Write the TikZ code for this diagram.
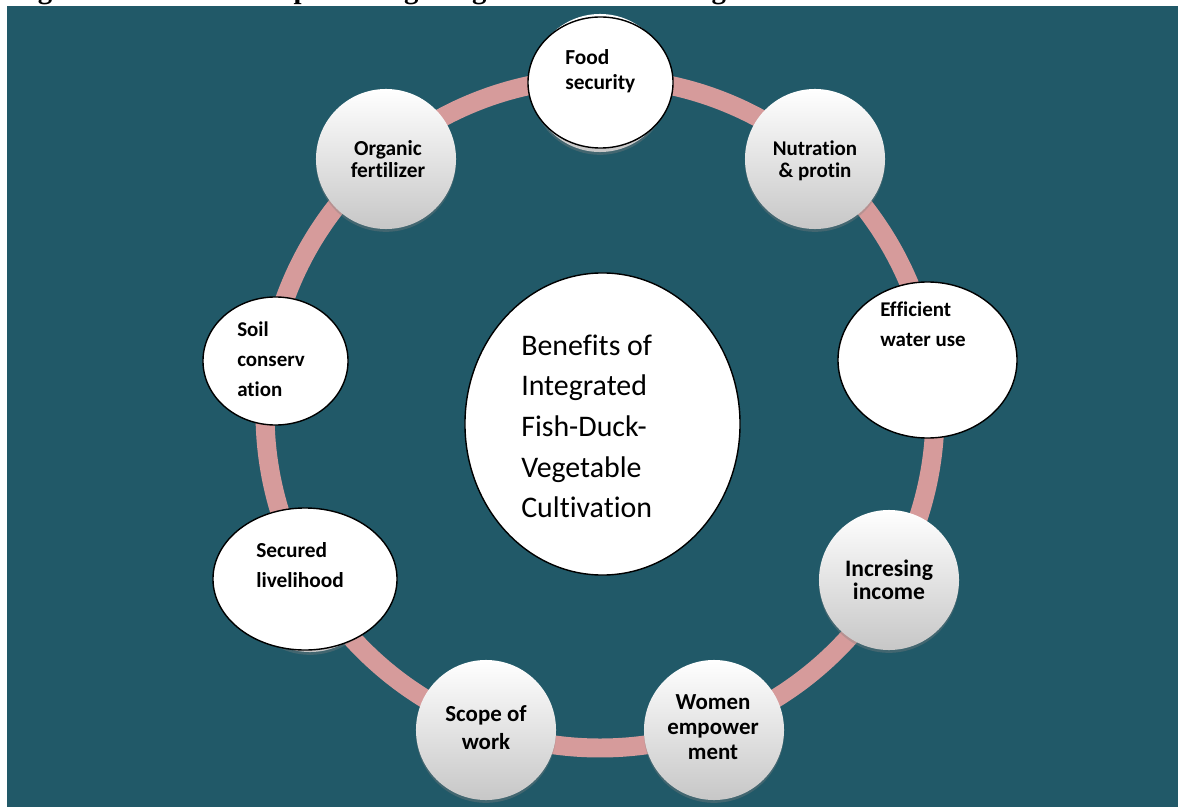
\documentclass[tikz,border=0pt]{standalone}
\usepackage{fontspec}
\setmainfont{Carlito}[Ligatures=NoCommon]
\newfontfamily\titlefont{Liberation Serif}
\usetikzlibrary{shapes.geometric,shadows}
\definecolor{bgteal}{RGB}{33,89,104}
\definecolor{ringpink}{RGB}{214,155,155}
\begin{document}
\begin{tikzpicture}[x=0.025cm,y=-0.025cm,
  bubble/.style={circle, minimum size=3.5cm, inner sep=0pt, top color=white, bottom color=black!22,
    drop shadow={shadow xshift=0pt, shadow yshift=-2pt, opacity=0.35}},
  oval/.style={ellipse, draw=black, line width=1pt, fill=white, inner sep=0pt},
  lblc/.style={inner sep=0pt, align=center, anchor=north, text=black},
  lbll/.style={inner sep=0pt, align=left, anchor=north west, text=black},
]
\useasboundingbox (0,0) rectangle (1184,807);
\clip (0,0) rectangle (1184,807);
% title (mostly cut off at the top)
\node[anchor=base west, inner sep=0pt, font=\titlefont\bfseries\fontsize{20.5}{24}\selectfont] (title) at (12,-1.2)
  {Figure 3.1: Benefits of practicing integrated fish-duck-vegetable cultivation};
% background
\fill[bgteal] (7,6) rectangle (1178,807);
% ring
\coordinate (ringc) at (600,413);
\draw[ringpink, line width=13.5pt] (ringc) circle[radius=335];
% grey bubbles
\node[bubble, minimum size=3.45cm] (food0) at (600,83) {};
\node[bubble] (nutr) at (815,159) {};
\node[bubble] (org) at (386,159) {};
\node[bubble] (inc) at (889,580) {};
\node[bubble] (women) at (714,730) {};
\node[bubble] (scope) at (486,730) {};
\node[bubble] (sec0) at (310,582) {};
% white ovals
\node[oval, minimum width=3.625cm, minimum height=3.275cm] (food) at (600.5,82.5) {};
\node[oval, minimum width=4.475cm, minimum height=3.9cm] (water) at (927.5,360) {};
\node[oval, minimum width=4.6cm, minimum height=3.55cm] (sec) at (305,579) {};
\node[oval, minimum width=3.625cm, minimum height=3.2cm] (soil) at (275.5,361) {};
\node[oval, minimum width=6.875cm, minimum height=7.55cm] (center) at (602.5,424) {};
% labels
\node[lbll, font=\bfseries\fontsize{15.2}{17.7}\selectfont] (tfood) at (565,46.5) {\strut Food\\\strut security};
\node[lblc, font=\bfseries\fontsize{14.9}{15.6}\selectfont] (tnutr) at (815,139.6) {\strut Nutration\\\strut \& protin};
\node[lblc, font=\bfseries\fontsize{15.2}{15.6}\selectfont] (torg) at (388,139.6) {\strut Organic\\\strut fertilizer};
\node[lbll, font=\bfseries\fontsize{14.9}{21.26}\selectfont] (twater) at (880,295) {\strut Efficient\\\strut water use};
\node[lblc, font=\bfseries\fontsize{16.8}{17}\selectfont] (tinc) at (889,559) {\strut Incresing\\\strut income};
\node[lblc, font=\bfseries\fontsize{16.3}{18.07}\selectfont] (twomen) at (713,691) {\strut Women\\\strut empower\\\strut ment};
\node[lblc, font=\bfseries\fontsize{16.3}{19.84}\selectfont] (tscope) at (486,701.4) {\strut Scope of\\\strut work};
\node[lbll, font=\bfseries\fontsize{15.2}{21.26}\selectfont] (tsec) at (256,536) {\strut Secured\\\strut livelihood};
\node[lbll, font=\bfseries\fontsize{14.9}{21.26}\selectfont] (tsoil) at (237,315) {\strut Soil\\\strut conserv\\\strut ation};
\node[lbll, font=\fontsize{21.26}{28.88}\selectfont] (tcenter) at (521,326.5)
  {\strut Benefits of\\\strut Integrated\\\strut Fish-Duck-\\\strut Vegetable\\\strut Cultivation};
\end{tikzpicture}
\end{document}
